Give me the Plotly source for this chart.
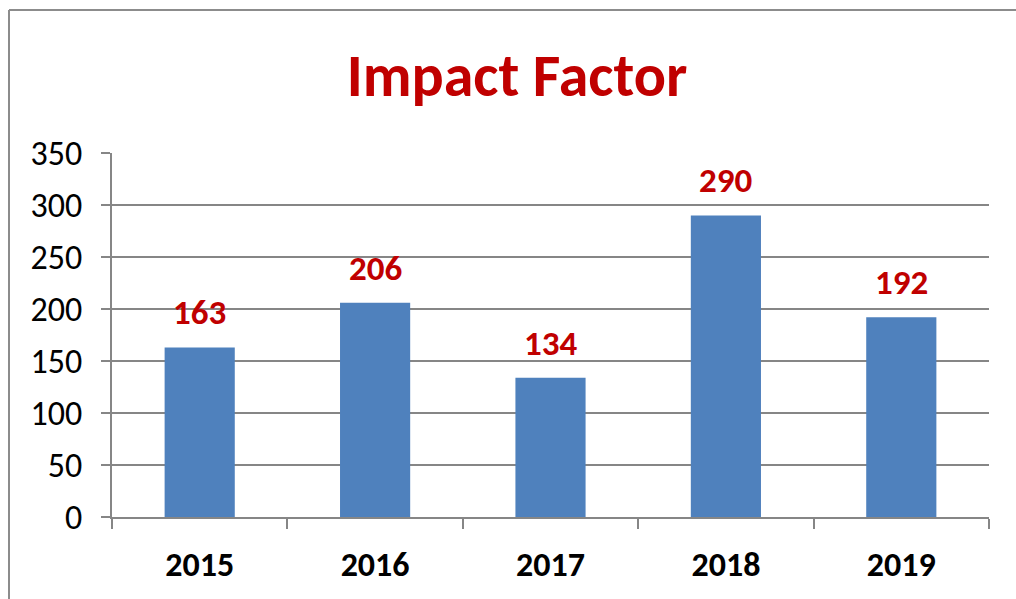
import plotly.graph_objects as go

years = ["2015", "2016", "2017", "2018", "2019"]
impact = [163, 206, 134, 290, 192]
y_ticks = [0, 50, 100, 150, 200, 250, 300, 350]
title_text = "Impact Factor"

W, H = 1016, 599
ML, MT = 112, 153
MR = W - 989
MB = H - 517
pw, ph = W - ML - MR, H - MT - MB

FONT = "Carlito, Lato, Open Sans, sans-serif"
GRID = "#868686"

fig = go.Figure()
fig.add_trace(go.Bar(
    x=years, y=impact, marker=dict(color="#4F81BD", line=dict(width=0)),
    width=0.4, hoverinfo="x+y",
))

for i, v in enumerate(impact):
    fig.add_annotation(x=i, y=v, xref="x", yref="y", text=f"<b>{v}</b>", showarrow=False,
                       yanchor="middle", yshift=35,
                       font=dict(family=FONT, size=35, color="#C00000"))

def px_x(p):
    return (p - ML) / pw

def px_y(p):
    return 1 - (p - MT) / ph

border = dict(color="#8c8c8c", width=2)
fig.add_shape(type="line", xref="paper", yref="paper",
              x0=px_x(9), x1=px_x(1100), y0=px_y(10), y1=px_y(10), line=border, layer="below")
fig.add_shape(type="line", xref="paper", yref="paper",
              x0=px_x(9), x1=px_x(9), y0=px_y(10), y1=px_y(700), line=border, layer="below")

fig.update_layout(
    width=W, height=H,
    margin=dict(l=ML, r=MR, t=MT, b=MB, autoexpand=False),
    paper_bgcolor="white", plot_bgcolor="white",
    title=dict(text=f"<b>{title_text}</b>", x=517 / W, xanchor="center",
               y=1 - 75 / H, yanchor="middle",
               font=dict(family=FONT, size=60, color="#C00000")),
    showlegend=False,
    bargap=0.6,
    xaxis=dict(
        type="category", showgrid=False, showline=True, linecolor=GRID, linewidth=2,
        ticks="outside", tickson="boundaries", ticklen=10, tickcolor=GRID, tickwidth=2,
        tickfont=dict(family=FONT, size=34, color="black"), tickangle=0, automargin=False,
        tickprefix="<b>", ticksuffix="</b>", ticklabelstandoff=16,
    ),
    yaxis=dict(
        range=[0, 350], tickvals=y_ticks, showgrid=True, gridcolor=GRID, gridwidth=2,
        showline=True, linecolor=GRID, linewidth=2, zeroline=False, automargin=False,
        ticks="outside", ticklen=9, tickcolor=GRID, tickwidth=2,
        tickfont=dict(family=FONT, size=34, color="black"), ticklabelstandoff=12,
    ),
)

post = ("document.body.style.margin='0';"
        "document.body.style.overflow='hidden';"
        "document.documentElement.style.overflow='hidden';")
fig.write_html("out.html", post_script=post, config={"displayModeBar": False})
